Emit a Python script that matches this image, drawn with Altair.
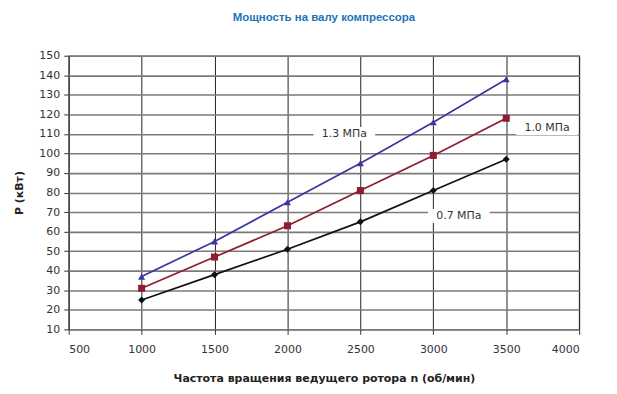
import altair as alt
import pandas as pd

rpm = [1000, 1500, 2000, 2500, 3000, 3500]
p07 = [25, 38, 51, 65, 81, 97]
p10 = [31, 47, 63, 81, 99, 118]
p13 = [37, 55, 75, 95, 116, 138]
series = ["0.7 МПа", "1.0 МПа", "1.3 МПа"]
colors = ["#111111", "#8e1b2e", "#3a35a0"]
shapes = ["diamond", "square", "triangle-up"]

label_text = ["1.3 МПа", "1.0 МПа", "0.7 МПа"]
label_x = [2390, 3780, 3175]
label_y = [110, 113, 68]

x_ticks = list(range(500, 4001, 500))
y_ticks = list(range(10, 151, 10))

rows = []
for name, vals in zip(series, [p07, p10, p13]):
    for r, v in zip(rpm, vals):
        rows.append({"n": r, "P": v, "s": name})
df = pd.DataFrame(rows)
lab = pd.DataFrame({"t": label_text, "n": label_x, "P": label_y})

xs = alt.Scale(domain=[500, 4000], nice=False, zero=False)
ys = alt.Scale(domain=[10, 150], nice=False, zero=False)
cs = alt.Scale(domain=series, range=colors)
ss = alt.Scale(domain=series, range=shapes)

xax = alt.Axis(values=x_ticks, format="d", title="Частота вращения ведущего ротора n (об/мин)",
               gridColor="#222222", gridWidth=1, tickColor="#333", tickSize=5, domain=False,
               labelPadding=9, titlePadding=18, labelOverlap=False)
yax = alt.Axis(values=y_ticks, format="d", title="P (кВт)",
               gridColor="#7a7a7a", gridWidth=1.6, tickColor="#333", tickSize=5, domain=False,
               labelPadding=4, titlePadding=14, labelOverlap=False)

X = alt.X("n:Q", scale=xs, axis=xax)
Y = alt.Y("P:Q", scale=ys, axis=yax)

base = alt.Chart(df)
lines = base.mark_line(strokeWidth=1.7).encode(
    x=X, y=Y, color=alt.Color("s:N", scale=cs, legend=None),
)
pts = base.mark_point(filled=True, size=50, opacity=1).encode(
    x=X, y=Y,
    color=alt.Color("s:N", scale=cs, legend=None),
    shape=alt.Shape("s:N", scale=ss, legend=None),
)
boxes = alt.Chart(lab).mark_rect(color="white", width=62, height=14).encode(x=X, y=Y)
texts = alt.Chart(lab).mark_text(fontSize=11, color="#333", font="DejaVu Sans").encode(
    x=X, y=Y, text="t:N"
)

chart = alt.layer(lines, pts, boxes, texts).properties(
    width=513, height=275,
    autosize=alt.AutoSizeParams(type="none"),
    padding={"left": 61, "top": 47, "right": 30, "bottom": 62},
    title=alt.TitleParams("Мощность на валу компрессора", color="#1f73b7", fontSize=11.5,
                          font="Liberation Sans", fontWeight="bold", anchor="middle", offset=26),
).configure_view(stroke="#555", strokeWidth=1.2).configure_axis(
    labelFont="DejaVu Sans", labelFontSize=11, labelColor="#333",
    titleFont="DejaVu Sans", titleFontSize=11, titleColor="#222", titleFontWeight="bold",
)

chart.save("out.html", embed_options={"renderer": "svg", "actions": False})
